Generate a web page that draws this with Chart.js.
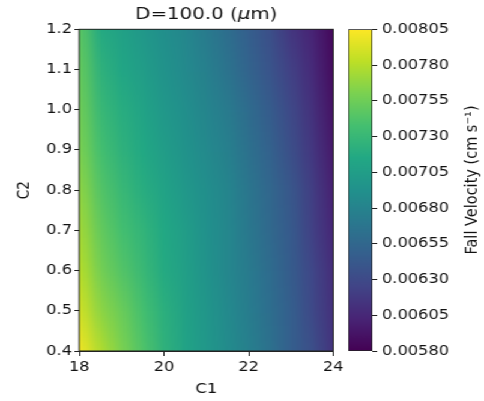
<!DOCTYPE html>
<html lang="en">
<head>
  <meta charset="UTF-8" />
  <title>D=100.0 (μm)</title>
  <script src="https://cdn.jsdelivr.net/npm/chart.js"></script>
  <style>
    body { margin: 0; background: #fff; overflow: hidden; }
    #wrap { position: absolute; left: 0; top: 0; width: 403px; height: 401px;
            transform: scaleX(1.201); transform-origin: 0 0; }
    #wrap canvas { position: absolute; left: 0; top: 0; }
  </style>
</head>
<body>
  <div id="wrap">
    <canvas id="heat" width="403" height="401"></canvas>
    <canvas id="cbar" width="403" height="401"></canvas>
  </div>

  <script>
    // grid of the heat map
    const c1Values = [18, 18.5, 19, 19.5, 20, 20.5, 21, 21.5, 22, 22.5, 23, 23.5, 24];
    const c2Values = [0.4, 0.5, 0.6, 0.7, 0.8, 0.9, 1.0, 1.1, 1.2];

    // fall velocity (cm/s), one row per C2 value, columns follow c1Values
    const vel04 = [0.008005, 0.007780, 0.007600, 0.007420, 0.007240, 0.007105, 0.006993, 0.006880, 0.006768, 0.006633, 0.006475, 0.006340, 0.006138];
    const vel05 = [0.007893, 0.007668, 0.007533, 0.007375, 0.007218, 0.007083, 0.006970, 0.006858, 0.006745, 0.006610, 0.006475, 0.006295, 0.006115];
    const vel06 = [0.007803, 0.007578, 0.007443, 0.007308, 0.007173, 0.007060, 0.006948, 0.006835, 0.006723, 0.006588, 0.006453, 0.006273, 0.006093];
    const vel07 = [0.007735, 0.007510, 0.007375, 0.007263, 0.007150, 0.007038, 0.006925, 0.006835, 0.006700, 0.006565, 0.006430, 0.006228, 0.006048];
    const vel08 = [0.007668, 0.007443, 0.007308, 0.007195, 0.007105, 0.006993, 0.006903, 0.006813, 0.006678, 0.006543, 0.006408, 0.006205, 0.006003];
    const vel09 = [0.007600, 0.007375, 0.007240, 0.007150, 0.007038, 0.006948, 0.006858, 0.006768, 0.006633, 0.006498, 0.006340, 0.006160, 0.005958];
    const vel10 = [0.007555, 0.007308, 0.007195, 0.007105, 0.006993, 0.006903, 0.006813, 0.006723, 0.006588, 0.006453, 0.006295, 0.006115, 0.005913];
    const vel11 = [0.007510, 0.007240, 0.007128, 0.007038, 0.006948, 0.006858, 0.006768, 0.006655, 0.006520, 0.006385, 0.006228, 0.006070, 0.005868];
    const vel12 = [0.007465, 0.007173, 0.007083, 0.006993, 0.006903, 0.006835, 0.006723, 0.006610, 0.006475, 0.006340, 0.006160, 0.006025, 0.005845];
    const velocityRows = [vel04, vel05, vel06, vel07, vel08, vel09, vel10, vel11, vel12];

    const xTicks = [18, 20, 22, 24];
    const yTicks = [0.4, 0.5, 0.6, 0.7, 0.8, 0.9, 1.0, 1.1, 1.2];
    const cbarTicks = [0.0058, 0.00605, 0.0063, 0.00655, 0.0068, 0.00705, 0.0073, 0.00755, 0.0078, 0.00805];
    const vMin = 0.0058, vMax = 0.00805;

    const titleParts = [['D=100.0 (', 'normal'], ['μ', 'italic'], ['m)', 'normal']];
    const xLabel = 'C1';
    const yLabel = 'C2';
    const cbarLabel = 'Fall Velocity (cm s⁻¹)';

    const FONT = 'DejaVu Sans';

    // viridis
    const viridis = ['#440154', '#482475', '#414487', '#355f8d', '#2a788e', '#21918c',
                     '#22a884', '#44bf70', '#7ad151', '#bddf26', '#fde725'];
    const hexRgb = h => [1, 3, 5].map(i => parseInt(h.substr(i, 2), 16));
    const viridisRgb = viridis.map(hexRgb);
    function colorFor(v) {
      let t = (v - vMin) / (vMax - vMin);
      t = Math.min(1, Math.max(0, t)) * (viridisRgb.length - 1);
      const i = Math.min(viridisRgb.length - 2, Math.floor(t));
      const f = t - i;
      return viridisRgb[i].map((c, k) => Math.round(c + (viridisRgb[i + 1][k] - c) * f));
    }

    const points = [];
    c2Values.forEach((c2, r) => {
      c1Values.forEach((c1, c) => points.push({ x: c1, y: c2, v: velocityRows[r][c] }));
    });

    // paints the grid as a smoothly shaded image between the scale positions
    const heatPlugin = {
      id: 'heat',
      beforeDatasetsDraw(chart) {
        const data = chart.data.datasets[0].data;
        const nx = c1Values.length, ny = c2Values.length;
        const off = document.createElement('canvas');
        off.width = nx; off.height = ny;
        const octx = off.getContext('2d');
        const img = octx.createImageData(nx, ny);
        data.forEach(p => {
          const col = c1Values.indexOf(p.x);
          const row = ny - 1 - c2Values.indexOf(p.y);
          const rgb = colorFor(p.v);
          const k = (row * nx + col) * 4;
          img.data[k] = rgb[0]; img.data[k + 1] = rgb[1]; img.data[k + 2] = rgb[2]; img.data[k + 3] = 255;
        });
        octx.putImageData(img, 0, 0);
        const xs = chart.scales.x, ys = chart.scales.y;
        const x0 = xs.getPixelForValue(c1Values[0]);
        const x1 = xs.getPixelForValue(c1Values[nx - 1]);
        const y0 = ys.getPixelForValue(c2Values[ny - 1]);
        const y1 = ys.getPixelForValue(c2Values[0]);
        const ctx = chart.ctx;
        ctx.save();
        ctx.imageSmoothingEnabled = true;
        ctx.drawImage(off, 0.5, 0.5, nx - 1, ny - 1, x0, y0, x1 - x0, y1 - y0);
        ctx.restore();
      },
      afterDatasetsDraw(chart) {
        const a = chart.chartArea, ctx = chart.ctx;
        ctx.save();
        ctx.strokeStyle = '#222';
        ctx.lineWidth = 1;
        ctx.strokeRect(a.left, a.top, a.right - a.left, a.bottom - a.top);
        ctx.restore();
      },
      afterDraw(chart) {
        // title with italic mu, centred over the plot area
        const a = chart.chartArea, ctx = chart.ctx;
        ctx.save();
        ctx.fillStyle = '#111';
        ctx.textBaseline = 'middle';
        const fontOf = st => st + ' 16.5px "' + FONT + '"';
        let total = 0;
        titleParts.forEach(([t, st]) => { ctx.font = fontOf(st); total += ctx.measureText(t).width; });
        let x = (a.left + a.right) / 2 - total / 2;
        titleParts.forEach(([t, st]) => {
          ctx.font = fontOf(st);
          ctx.fillText(t, x, 15);
          x += ctx.measureText(t).width;
        });
        ctx.restore();
      }
    };

    const tickFont = { family: FONT, size: 13.5 };

    new Chart(document.getElementById('heat'), {
      type: 'scatter',
      data: { datasets: [{ data: points, pointRadius: 0, pointHoverRadius: 0 }] },
      plugins: [heatPlugin],
      options: {
        responsive: false,
        animation: false,
        events: [],
        layout: { padding: { left: 0, right: 125.5, top: 29.3, bottom: 0 } },
        plugins: {
          legend: { display: false },
          tooltip: { enabled: false },
          title: { display: false }
        },
        scales: {
          x: {
            type: 'linear', min: 18, max: 24,
            afterBuildTicks: s => { s.ticks = xTicks.map(v => ({ value: v })); },
            afterFit: s => { s.height = 50; },
            grid: { drawOnChartArea: false, drawTicks: true, tickLength: 5, tickColor: '#222' },
            border: { display: true, color: '#222' },
            ticks: { color: '#111', font: tickFont, padding: 3, maxRotation: 0, callback: v => String(v) },
            title: { display: true, text: xLabel, color: '#111', font: tickFont, padding: { top: 0, bottom: 3 } }
          },
          y: {
            type: 'linear', min: 0.4, max: 1.2,
            afterBuildTicks: s => { s.ticks = yTicks.map(v => ({ value: v })); },
            afterFit: s => { s.width = 66; },
            grid: { drawOnChartArea: false, drawTicks: true, tickLength: 4, tickColor: '#222' },
            border: { display: true, color: '#222' },
            ticks: { color: '#111', font: tickFont, padding: 2, callback: v => v.toFixed(1) },
            title: { display: true, text: yLabel, color: '#111', font: tickFont, padding: { top: 12, bottom: 0 } }
          }
        }
      }
    });

    // colour bar: one floating bar spanning the whole value range
    const cbarLabelPlugin = {
      id: 'cbarLabel',
      afterDraw(chart) {
        const ctx = chart.ctx;
        ctx.save();
        ctx.translate(393, 180);
        ctx.rotate(-Math.PI / 2);
        ctx.font = '14.5px "' + FONT + '"';
        ctx.fillStyle = '#111';
        ctx.textAlign = 'center';
        ctx.textBaseline = 'middle';
        ctx.fillText(cbarLabel, 0, 0);
        ctx.restore();
      }
    };

    new Chart(document.getElementById('cbar'), {
      type: 'bar',
      data: {
        labels: [''],
        datasets: [{
          data: [[vMin, vMax]],
          barPercentage: 1,
          categoryPercentage: 1,
          borderWidth: 1,
          borderColor: '#222',
          borderSkipped: false,
          backgroundColor: ctx => {
            const a = ctx.chart.chartArea;
            if (!a) return viridis[5];
            const g = ctx.chart.ctx.createLinearGradient(0, a.bottom, 0, a.top);
            viridis.forEach((c, i) => g.addColorStop(i / (viridis.length - 1), c));
            return g;
          }
        }]
      },
      plugins: [cbarLabelPlugin],
      options: {
        responsive: false,
        animation: false,
        events: [],
        layout: { padding: { left: 290, right: 0, top: 29.3, bottom: 50 } },
        plugins: { legend: { display: false }, tooltip: { enabled: false }, title: { display: false } },
        scales: {
          x: { display: false },
          y: {
            position: 'right', min: vMin, max: vMax,
            afterBuildTicks: s => { s.ticks = cbarTicks.map(v => ({ value: v })); },
            afterFit: s => { s.width = 93; },
            grid: { drawOnChartArea: false, drawTicks: true, tickLength: 4, tickColor: '#222' },
            border: { display: false },
            ticks: { color: '#111', font: tickFont, padding: 4, callback: v => v.toFixed(5) }
          }
        }
      }
    });
  </script>
</body>
</html>
